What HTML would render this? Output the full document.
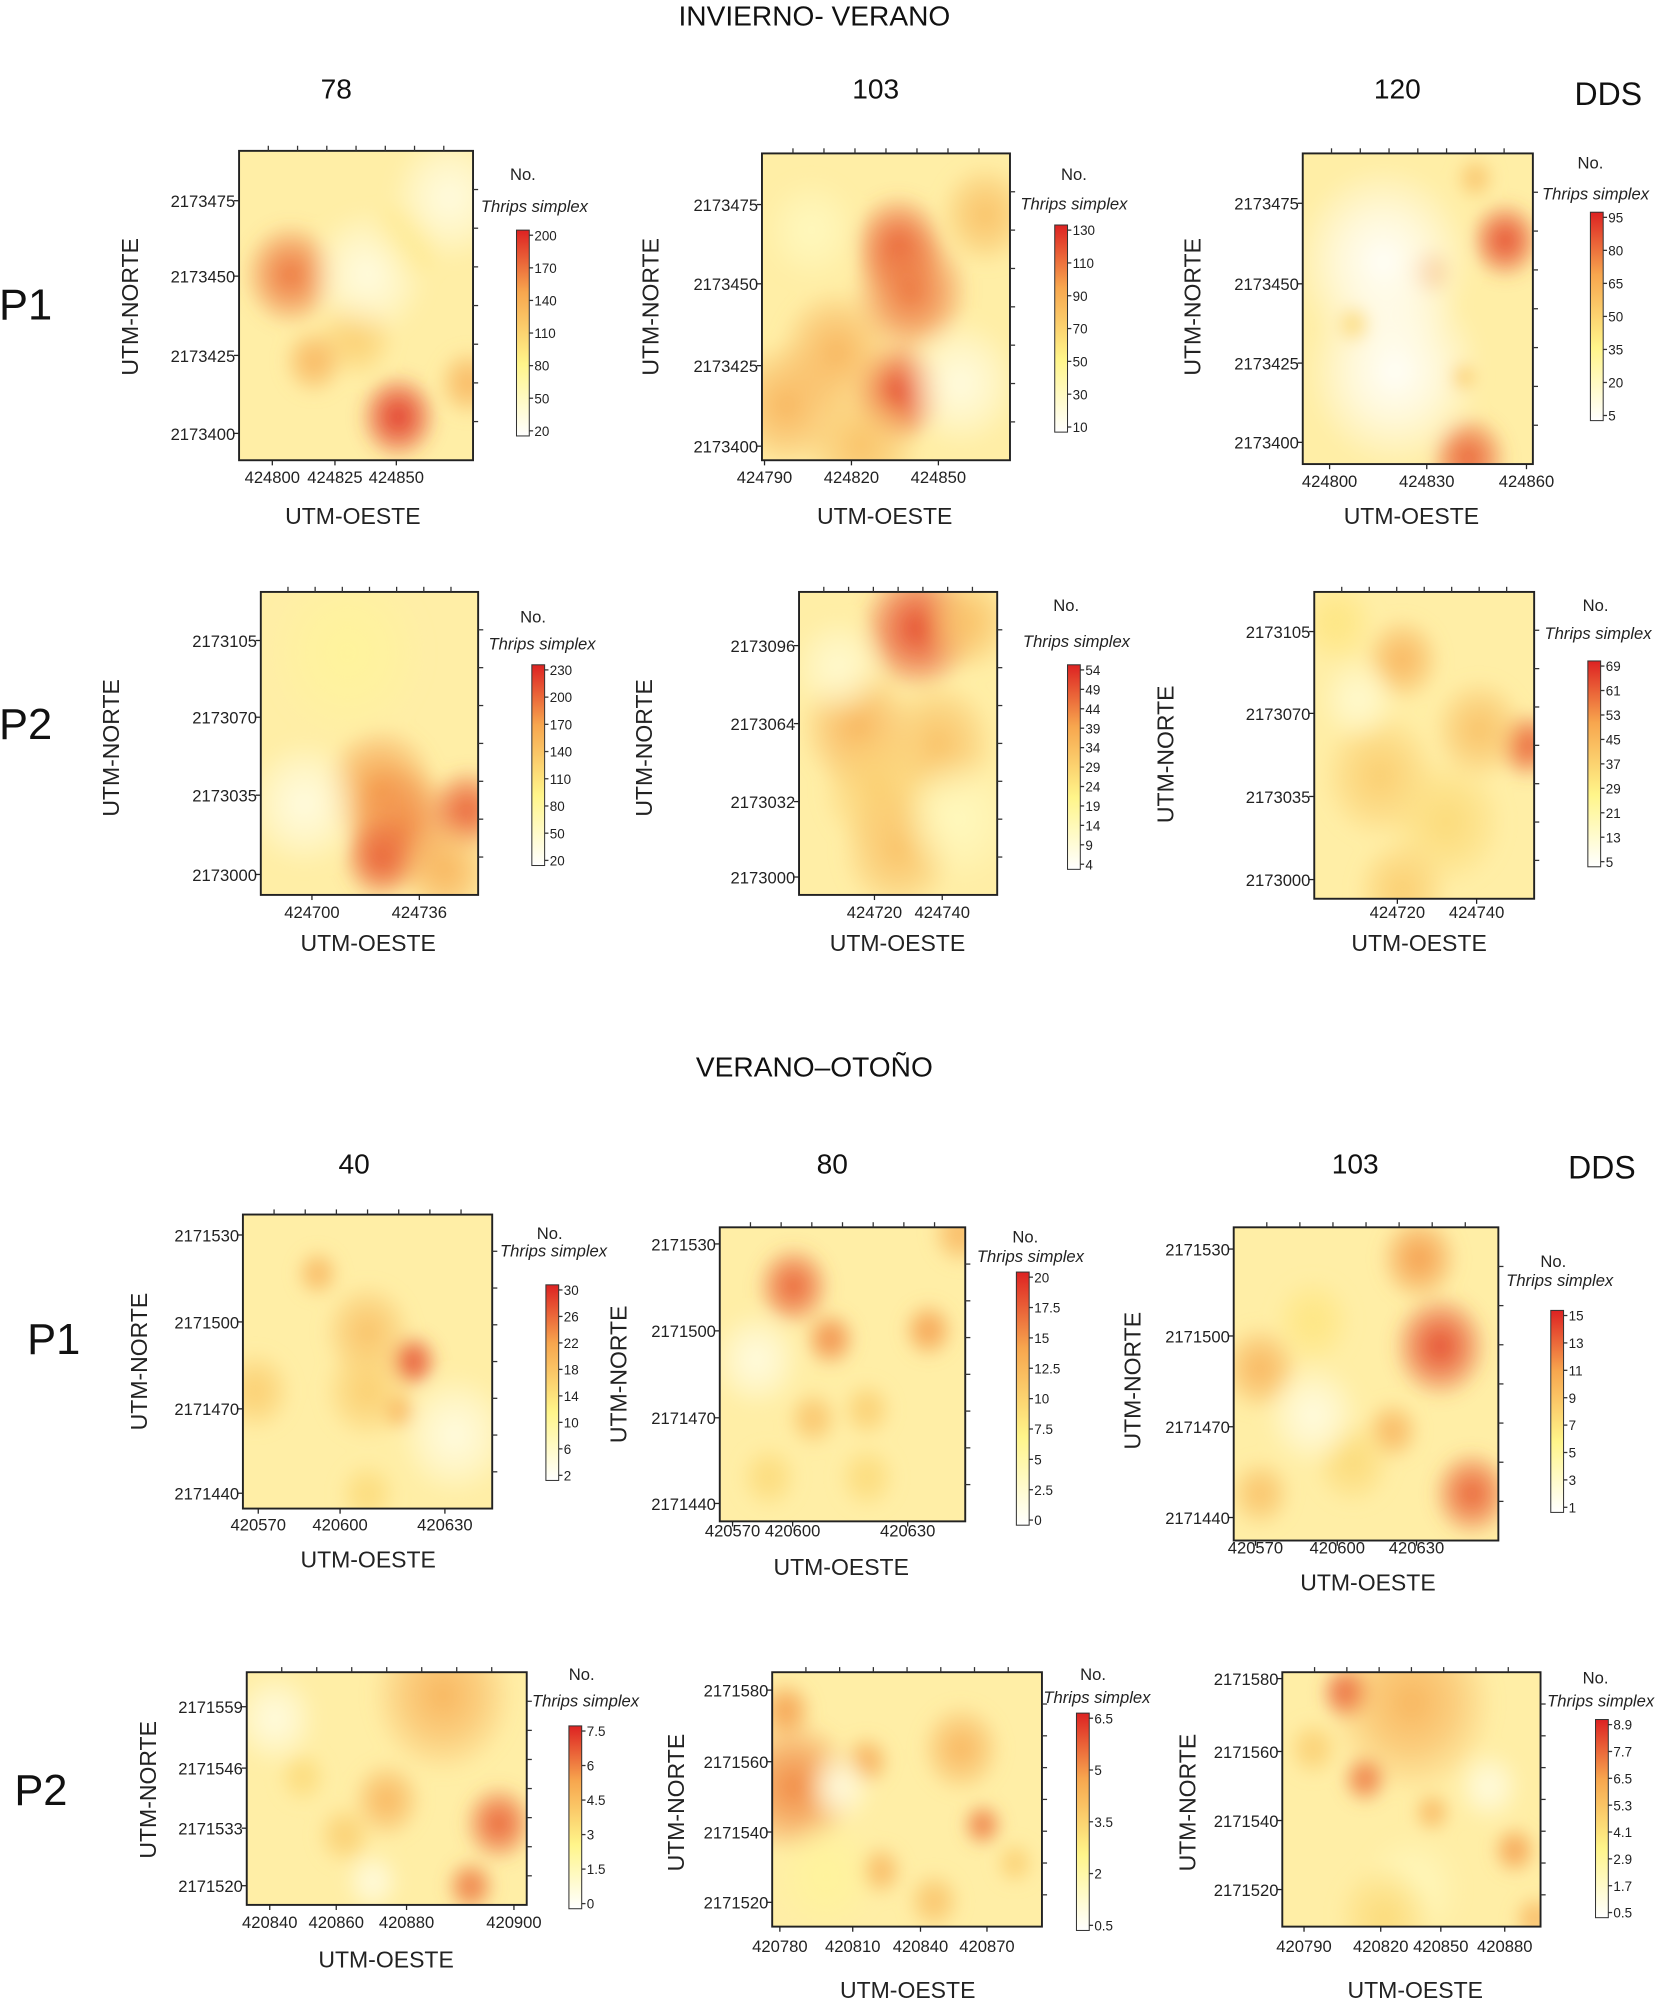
<!DOCTYPE html>
<html><head><meta charset="utf-8">
<style>
html,body{margin:0;padding:0;background:#fff;overflow:hidden}
#wrap{width:1300px;height:1573px;transform:scale(1.27846,1.27845);transform-origin:0 0;position:relative}
svg text{font-family:"Liberation Sans",sans-serif}
</style></head><body>
<div id="wrap">
<svg id="fig" width="1300" height="1573" viewBox="0 0 1300 1573" xmlns="http://www.w3.org/2000/svg">
<defs>
<linearGradient id="cbg" x1="0" y1="1" x2="0" y2="0">
<stop offset="0" stop-color="#ffffff"/><stop offset="0.35" stop-color="#fff58a"/><stop offset="0.7" stop-color="#f7a64e"/><stop offset="1" stop-color="#dd2222"/>
</linearGradient>
<filter id="blur" x="-10%" y="-10%" width="120%" height="120%"><feGaussianBlur stdDeviation="6"/></filter>
</defs>
<g font-size="22" fill="#111">
<text x="637" y="20" text-anchor="middle">INVIERNO- VERANO</text>
<text x="637" y="842" text-anchor="middle">VERANO–OTOÑO</text>
<text x="263" y="77" text-anchor="middle">78</text>
<text x="685" y="77" text-anchor="middle">103</text>
<text x="1093" y="77" text-anchor="middle">120</text>
<text x="1258" y="82" text-anchor="middle" font-size="25">DDS</text>
<text x="277" y="918" text-anchor="middle">40</text>
<text x="651" y="918" text-anchor="middle">80</text>
<text x="1060" y="918" text-anchor="middle">103</text>
<text x="1253" y="922" text-anchor="middle" font-size="25">DDS</text>
<text x="20" y="250" text-anchor="middle" font-size="34">P1</text>
<text x="20" y="578" text-anchor="middle" font-size="34">P2</text>
<text x="42" y="1059" text-anchor="middle" font-size="34">P1</text>
<text x="32" y="1412" text-anchor="middle" font-size="34">P2</text>
</g>
<g id="panels"></g>
</svg>
</div>
<script>
// ---- data arrays (tick labels, colorbar labels, hotspots [fx, fy, intensity 0..1, radius frac]) ----
const yTickLabels = [
 ["2173475","2173450","2173425","2173400"],["2173475","2173450","2173425","2173400"],["2173475","2173450","2173425","2173400"],
 ["2173105","2173070","2173035","2173000"],["2173096","2173064","2173032","2173000"],["2173105","2173070","2173035","2173000"],
 ["2171530","2171500","2171470","2171440"],["2171530","2171500","2171470","2171440"],["2171530","2171500","2171470","2171440"],
 ["2171559","2171546","2171533","2171520"],["2171580","2171560","2171540","2171520"],["2171580","2171560","2171540","2171520"]];
const xTickLabels = [
 ["424800","424825","424850"],["424790","424820","424850"],["424800","424830","424860"],
 ["424700","424736"],["424720","424740"],["424720","424740"],
 ["420570","420600","420630"],["420570","420600","420630"],["420570","420600","420630"],
 ["420840","420860","420880","420900"],["420780","420810","420840","420870"],["420790","420820","420850","420880"]];
const cbLabels = [
 ["200","170","140","110","80","50","20"],["130","110","90","70","50","30","10"],["95","80","65","50","35","20","5"],
 ["230","200","170","140","110","80","50","20"],["54","49","44","39","34","29","24","19","14","9","4"],["69","61","53","45","37","29","21","13","5"],
 ["30","26","22","18","14","10","6","2"],["20","17.5","15","12.5","10","7.5","5","2.5","0"],["15","13","11","9","7","5","3","1"],
 ["7.5","6","4.5","3","1.5","0"],["6.5","5","3.5","2","0.5"],["8.9","7.7","6.5","5.3","4.1","2.9","1.7","0.5"]];
const hotspots = [
 [[0.22,0.4,0.8,0.12],[0.5,0.6,0.5,0.1],[0.32,0.68,0.6,0.08],[0.68,0.86,0.95,0.1],[0.98,0.75,0.6,0.08],[0.7,0.3,0.4,0.1],[0.55,0.4,0.1,0.15],[0.9,0.15,0.1,0.15]],
 [[0.55,0.3,0.85,0.12],[0.6,0.45,0.8,0.15],[0.55,0.78,0.9,0.12],[0.3,0.65,0.6,0.15],[0.1,0.82,0.6,0.15],[0.4,0.95,0.55,0.15],[0.9,0.2,0.55,0.12],[0.8,0.75,0.1,0.15],[0.2,0.25,0.2,0.12]],
 [[0.88,0.28,0.9,0.09],[0.55,0.38,0.65,0.06],[0.72,0.98,0.85,0.1],[0.75,0.08,0.55,0.05],[0.35,0.35,0.02,0.22],[0.4,0.7,0.02,0.22],[0.7,0.72,0.5,0.04],[0.22,0.55,0.45,0.05]],
 [[0.55,0.65,0.7,0.15],[0.65,0.78,0.75,0.15],[0.55,0.88,0.85,0.1],[0.95,0.72,0.85,0.1],[0.85,0.92,0.6,0.12],[0.2,0.7,0.1,0.15],[0.4,0.2,0.3,0.2]],
 [[0.6,0.12,0.9,0.15],[0.85,0.1,0.55,0.12],[0.3,0.45,0.6,0.15],[0.7,0.5,0.55,0.15],[0.4,0.65,0.5,0.15],[0.5,0.85,0.55,0.15],[0.2,0.25,0.15,0.12],[0.8,0.75,0.2,0.15]],
 [[0.97,0.5,0.85,0.08],[0.4,0.22,0.6,0.1],[0.75,0.45,0.55,0.12],[0.3,0.6,0.5,0.15],[0.6,0.75,0.45,0.15],[0.4,0.97,0.5,0.12],[0.1,0.1,0.4,0.1],[0.2,0.35,0.15,0.1]],
 [[0.68,0.5,0.9,0.07],[0.5,0.4,0.55,0.12],[0.5,0.6,0.5,0.12],[0.3,0.2,0.6,0.06],[0.63,0.67,0.6,0.05],[0.05,0.6,0.5,0.1],[0.5,0.95,0.45,0.08],[0.85,0.75,0.1,0.15]],
 [[0.3,0.2,0.85,0.1],[0.45,0.38,0.75,0.07],[0.85,0.35,0.7,0.07],[0.38,0.65,0.55,0.07],[0.6,0.62,0.5,0.07],[0.98,0.02,0.6,0.08],[0.2,0.85,0.45,0.08],[0.6,0.85,0.45,0.08],[0.15,0.45,0.1,0.12]],
 [[0.78,0.38,0.9,0.12],[0.9,0.85,0.85,0.1],[0.7,0.1,0.7,0.1],[0.1,0.45,0.6,0.1],[0.6,0.65,0.6,0.07],[0.3,0.3,0.4,0.1],[0.1,0.85,0.55,0.08],[0.45,0.75,0.45,0.1],[0.3,0.6,0.1,0.12]],
 [[0.7,0.1,0.6,0.2],[0.9,0.65,0.85,0.1],[0.8,0.92,0.8,0.07],[0.5,0.55,0.6,0.1],[0.35,0.7,0.5,0.08],[0.2,0.45,0.45,0.07],[0.1,0.2,0.1,0.12],[0.45,0.9,0.1,0.08]],
 [[0.08,0.45,0.75,0.18],[0.05,0.15,0.7,0.08],[0.35,0.35,0.65,0.07],[0.7,0.3,0.6,0.12],[0.78,0.6,0.8,0.06],[0.4,0.78,0.6,0.07],[0.6,0.9,0.55,0.08],[0.9,0.75,0.5,0.06],[0.25,0.45,0.1,0.1],[0.2,0.8,0.3,0.15]],
 [[0.25,0.08,0.9,0.08],[0.5,0.12,0.6,0.25],[0.32,0.42,0.8,0.07],[0.9,0.7,0.7,0.07],[0.58,0.55,0.6,0.06],[0.98,0.97,0.6,0.07],[0.12,0.3,0.5,0.08],[0.8,0.45,0.1,0.1],[0.5,0.85,0.2,0.15],[0.4,0.96,0.45,0.15]]];

// ---- layout (pixel geometry) ----
const L = [
 {p:[187,118,370,360],yt:[157,216,278,339],xt:[213,262,310],xl:373,ox:276,oy:410,nx:108,ny:240,cb:[404,180,341],no:[409,141],th:[418,166]},
 {p:[596,120,790,360],yt:[160,222,286,349],xt:[598,666,734],xl:373,ox:692,oy:410,nx:515,ny:240,cb:[825,176,338],no:[840,141],th:[840,164]},
 {p:[1019,120,1199,363],yt:[159,222,284,346],xt:[1040,1116,1194],xl:376,ox:1104,oy:410,nx:939,ny:240,cb:[1244,166,329],no:[1244,132],th:[1248,156]},
 {p:[204,463,374,700],yt:[501,561,622,684],xt:[244,328],xl:713,ox:288,oy:744,nx:93,ny:585,cb:[416,520,677],no:[417,487],th:[424,508]},
 {p:[625,463,780,700],yt:[505,566,627,686],xt:[684,737],xl:713,ox:702,oy:744,nx:510,ny:585,cb:[835,520,680],no:[834,478],th:[842,506]},
 {p:[1028,463,1200,703],yt:[494,558,623,688],xt:[1093,1155],xl:713,ox:1110,oy:744,nx:918,ny:590,cb:[1242,517,678],no:[1248,478],th:[1250,500]},
 {p:[190,950,385,1180],yt:[966,1034,1102,1168],xt:[202,266,348],xl:1192,ox:288,oy:1226,nx:115,ny:1065,cb:[427,1005,1158],no:[430,969],th:[433,983]},
 {p:[563,960,755,1190],yt:[973,1041,1109,1176],xt:[573,620,710],xl:1197,ox:658,oy:1232,nx:490,ny:1075,cb:[795,995,1193],no:[802,972],th:[806,987]},
 {p:[965,960,1172,1205],yt:[977,1045,1116,1187],xt:[982,1046,1108],xl:1210,ox:1070,oy:1244,nx:892,ny:1080,cb:[1213,1025,1183],no:[1215,991],th:[1220,1006]},
 {p:[193,1308,412,1490],yt:[1335,1383,1430,1475],xt:[211,263,318,402],xl:1503,ox:302,oy:1539,nx:122,ny:1400,cb:[445,1350,1493],no:[455,1314],th:[458,1335]},
 {p:[604,1308,815,1507],yt:[1322,1378,1433,1488],xt:[610,667,720,772],xl:1522,ox:710,oy:1563,nx:535,ny:1410,cb:[842,1340,1510],no:[855,1314],th:[858,1332]},
 {p:[1003,1308,1205,1507],yt:[1313,1370,1424,1478],xt:[1020,1080,1127,1177],xl:1522,ox:1107,oy:1563,nx:935,ny:1410,cb:[1248,1345,1500],no:[1248,1317],th:[1252,1335]}];

const NS='http://www.w3.org/2000/svg';
function mk(tag,attrs,parent){const e=document.createElementNS(NS,tag);for(const k in attrs)e.setAttribute(k,attrs[k]);if(parent)parent.appendChild(e);return e;}
function col(v){
 const st=[[0,[255,255,255]],[0.35,[255,242,140]],[0.7,[245,160,80]],[1,[222,40,34]]];
 for(let i=1;i<st.length;i++){if(v<=st[i][0]){const a=st[i-1],b=st[i],t=(v-a[0])/(b[0]-a[0]);
  return 'rgb('+a[1].map((c,j)=>Math.round(c+(b[1][j]-c)*t)).join(',')+')';}}
 return 'rgb(222,40,34)';
}
const root=document.getElementById('panels');
const defs=document.querySelector('defs');
L.forEach((g,i)=>{
 const G=mk('g',{},root);
 
 
 const [x0,y0,x1,y1]=g.p,w=x1-x0,h=y1-y0;
 const cp=mk('clipPath',{id:'cp'+i},defs);mk('rect',{x:x0,y:y0,width:w,height:h},cp);
 const hm=mk('g',{'clip-path':'url(#cp'+i+')'},G);
 
 
 mk('rect',{x:x0,y:y0,width:w,height:h,fill:'#ffeea6'},hm);
 const bl=mk('g',{filter:'url(#blur)'},hm);
 hotspots[i].forEach((s,k)=>{
  const gid='hg'+i+'_'+k;
  const rg=mk('radialGradient',{id:gid},defs);
  mk('stop',{offset:'0','stop-color':col(s[2]),'stop-opacity':'1'},rg);
  mk('stop',{offset:'0.5','stop-color':col(s[2]),'stop-opacity':'0.6'},rg);
  mk('stop',{offset:'1','stop-color':col(s[2]),'stop-opacity':'0'},rg);
  const r=s[3]*Math.max(w,h)*1.3;
  const c=mk('ellipse',{cx:x0+s[0]*w,cy:y0+s[1]*h,rx:r,ry:r*1.1,fill:'url(#'+gid+')'},bl);
  
  
 });
 mk('rect',{x:x0,y:y0,width:w,height:h,fill:'none',stroke:'#222','stroke-width':1.5},G);
 for(let t=1;t<8;t++){mk('line',{x1:x0+w*t/8,y1:y0,x2:x0+w*t/8,y2:y0-4,stroke:'#333'},G);
  mk('line',{x1:x1,y1:y0+h*t/8,x2:x1+4,y2:y0+h*t/8,stroke:'#333'},G);}
 yTickLabels[i].forEach((lab,k)=>{const y=g.yt[k];
  mk('line',{x1:x0-4,y1:y,x2:x0,y2:y,stroke:'#222'},G);
  const t=mk('text',{x:x0-3,y:y+5,'text-anchor':'end','font-size':13,fill:'#222'},G);t.textContent=lab;
  
  
 });
 xTickLabels[i].forEach((lab,k)=>{const x=g.xt[k];
  mk('line',{x1:x,y1:y1,x2:x,y2:y1+4,stroke:'#222'},G);
  const t=mk('text',{x:x,y:g.xl+5,'text-anchor':'middle','font-size':13,fill:'#222'},G);t.textContent=lab;
  
  
 });
 const xt=mk('text',{x:g.ox,y:g.oy,'text-anchor':'middle','font-size':18,fill:'#222'},G);xt.textContent='UTM-OESTE';
 
 
 const yt=mk('text',{x:g.nx,y:g.ny,'text-anchor':'middle','font-size':18,fill:'#222',transform:'rotate(-90 '+g.nx+' '+g.ny+')'},G);yt.textContent='UTM-NORTE';
 
 
 const [cx,ct,cbm]=g.cb;
 const cbr=mk('rect',{x:cx,y:ct,width:10,height:cbm-ct,fill:'url(#cbg)',stroke:'#333','stroke-width':0.8},G);
 
 
 const n=cbLabels[i].length;
 cbLabels[i].forEach((lab,k)=>{const y=ct+4+(cbm-ct-8)*k/(n-1);
  mk('line',{x1:cx+10,y1:y,x2:cx+13,y2:y,stroke:'#333'},G);
  const t=mk('text',{x:cx+14,y:y+4,'font-size':10.5,fill:'#222'},G);t.textContent=lab;
  
  
 });
 const no=mk('text',{x:g.no[0],y:g.no[1],'text-anchor':'middle','font-size':13,fill:'#222'},G);no.textContent='No.';
 
 
 const th=mk('text',{x:g.th[0],y:g.th[1],'text-anchor':'middle','font-size':13,'font-style':'italic',fill:'#222'},G);th.textContent='Thrips simplex';
 
 
});
</script>
</body></html>
